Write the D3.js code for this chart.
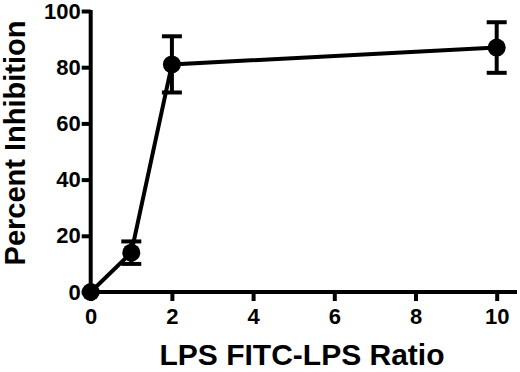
<!DOCTYPE html>
<head>
  <meta charset="utf-8">
  <script src="https://d3js.org/d3.v7.min.js"></script>
  <style>
    body { margin:0; background:#fff; }
    svg text { font-family: "Liberation Sans", Arial, sans-serif; font-weight: bold; fill: #000; }
    .axis path, .axis line { stroke: #000; stroke-width: 4; }
    .axis text { font-size: 22px; }
  </style>
</head>
<body>
  <script>
    // data
    var ratios = [0, 1, 2, 10];
    var inhibition = [0, 14, 81, 87];
    var sem = [0, 4, 10, 9];
    var xTicks = [0, 2, 4, 6, 8, 10];
    var yTicks = [0, 20, 40, 60, 80, 100];

    var width = 520, height = 372;

    var svg = d3.select('body').append('svg')
      .attr('width', width)
      .attr('height', height);

    var x = d3.scaleLinear().domain([0, 10.5]).range([90.7, 517]);
    var y = d3.scaleLinear().domain([0, 100]).range([292, 11]);

    svg.append('g')
      .attr('class', 'axis')
      .attr('transform', 'translate(0,292)')
      .call(d3.axisBottom(x).tickValues(xTicks).tickSize(9).tickSizeOuter(0).tickPadding(7))
      .call(function(g) { g.select('.domain').attr('d', 'M' + (x(0) - 2) + ',0H' + x(10.5)); });

    svg.append('g')
      .attr('class', 'axis')
      .attr('transform', 'translate(90.7,0)')
      .call(d3.axisLeft(y).tickValues(yTicks).tickSize(9).tickSizeOuter(0).tickPadding(1))
      .call(function(g) { g.select('.domain').attr('d', 'M0,' + (y(100) - 1) + 'V' + (y(0) + 2)); });

    var pts = ratios.map(function(r, i) { return { r: r, v: inhibition[i], e: sem[i] }; });

    // connecting line
    svg.append('path')
      .datum(pts)
      .attr('fill', 'none')
      .attr('stroke', '#000')
      .attr('stroke-width', 4)
      .attr('d', d3.line().x(function(d) { return x(d.r); }).y(function(d) { return y(d.v); }));

    // error bars
    var eb = svg.selectAll('.err')
      .data(pts.filter(function(d) { return d.e > 0; }))
      .enter().append('g')
      .attr('class', 'err')
      .attr('stroke', '#000')
      .attr('stroke-width', 4);
    eb.append('line')
      .attr('x1', function(d) { return x(d.r); }).attr('x2', function(d) { return x(d.r); })
      .attr('y1', function(d) { return y(d.v + d.e); }).attr('y2', function(d) { return y(d.v - d.e); });
    eb.append('line')
      .attr('x1', function(d) { return x(d.r) - 10; }).attr('x2', function(d) { return x(d.r) + 10; })
      .attr('y1', function(d) { return y(d.v + d.e); }).attr('y2', function(d) { return y(d.v + d.e); });
    eb.append('line')
      .attr('x1', function(d) { return x(d.r) - 10; }).attr('x2', function(d) { return x(d.r) + 10; })
      .attr('y1', function(d) { return y(d.v - d.e); }).attr('y2', function(d) { return y(d.v - d.e); });

    svg.selectAll('.pt')
      .data(pts)
      .enter().append('circle')
      .attr('class', 'pt')
      .attr('cx', function(d) { return x(d.r); })
      .attr('cy', function(d) { return y(d.v); })
      .attr('r', 9)
      .attr('fill', '#000');

    svg.append('text')
      .attr('x', 302)
      .attr('y', 365)
      .attr('text-anchor', 'middle')
      .style('font-size', '30px')
      .text('LPS FITC-LPS Ratio');

    svg.append('text')
      .attr('transform', 'translate(25,143) rotate(-90)')
      .attr('text-anchor', 'middle')
      .style('font-size', '29px')
      .text('Percent Inhibition');
  </script>
</body>
